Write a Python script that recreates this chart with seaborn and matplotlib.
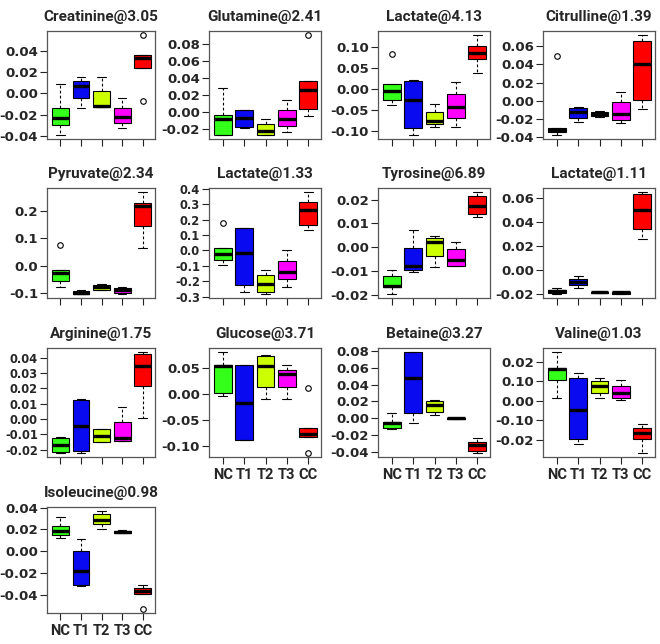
import numpy as np
import pandas as pd
import matplotlib
matplotlib.use("Agg")
import matplotlib.pyplot as plt
import seaborn as sns
from matplotlib import font_manager

# ---------------- data ----------------
groups = ["NC", "T1", "T2", "T3", "CC"]
group_colors = ["#33ff1a", "#0a0af0", "#ccff00", "#ff00ff", "#ff0000"]

# five-number summaries per group: [lower whisker, Q1, median, Q3, upper whisker]
creatinine_305 = [[-0.039, -0.030, -0.023, -0.014, 0.0087],
                  [-0.014, -0.0047, 0.0068, 0.0118, 0.0155],
                  [-0.0127, -0.0127, -0.0118, 0.0025, 0.0155],
                  [-0.032, -0.0273, -0.0217, -0.0133, -0.0047],
                  [0.0239, 0.0239, 0.0335, 0.0357, 0.0357]]
glutamine_241 = [[-0.0275, -0.0275, -0.0086, -0.0039, 0.0286],
                 [-0.0196, -0.0176, -0.0071, 0.0020, 0.0024],
                 [-0.0275, -0.0275, -0.0227, -0.0145, -0.0090],
                 [-0.0239, -0.0169, -0.0086, 0.0027, 0.0137],
                 [-0.0051, 0.0039, 0.0263, 0.0365, 0.0365]]
lactate_413 = [[-0.038, -0.0262, -0.004, 0.0119, 0.0119],
               [-0.1087, -0.0913, -0.0262, 0.0198, 0.0214],
               [-0.0897, -0.0833, -0.0746, -0.0532, -0.0341],
               [-0.0905, -0.0675, -0.0429, -0.0111, 0.0183],
               [0.038, 0.0714, 0.0873, 0.103, 0.129]]
citrulline_139 = [[-0.0375, -0.0338, -0.032, -0.0302, -0.0295],
                  [-0.0229, -0.0193, -0.012, -0.0073, -0.0065],
                  [-0.0174, -0.0167, -0.0145, -0.0124, -0.0116],
                  [-0.0247, -0.0211, -0.0149, -0.0011, 0.0098],
                  [-0.0084, 0.0015, 0.0404, 0.0662, 0.0724]]
pyruvate_234 = [[-0.0795, -0.0559, -0.0273, -0.0149, -0.0149],
                [-0.1031, -0.102, -0.098, -0.0932, -0.0894],
                [-0.0895, -0.087, -0.077, -0.0708, -0.068],
                [-0.103, -0.0994, -0.0894, -0.0832, -0.077],
                [0.0658, 0.1466, 0.2186, 0.2298, 0.2696]]
lactate_133 = [[-0.0945, -0.0615, -0.022, 0.013, 0.013],
               [-0.27, -0.226, -0.0176, 0.147, 0.147],
               [-0.281, -0.266, -0.22, -0.156, -0.127],
               [-0.233, -0.187, -0.138, -0.068, 0.0],
               [0.132, 0.1626, 0.2615, 0.312, 0.378]]
tyrosine_689 = [[-0.0194, -0.0166, -0.0159, -0.0119, -0.0093],
                [-0.0104, -0.0094, -0.0076, -0.0001, 0.0074],
                [-0.008, -0.0036, 0.0021, 0.0041, 0.0046],
                [-0.0079, -0.0079, -0.0054, -0.0007, 0.0021],
                [0.0129, 0.0139, 0.0174, 0.0213, 0.0231]]
lactate_111 = [[-0.0203, -0.0194, -0.018, -0.0171, -0.0157],
               [-0.0151, -0.0129, -0.0103, -0.008, -0.0057],
               [-0.0197, -0.0194, -0.0189, -0.0183, -0.018],
               [-0.0203, -0.0200, -0.0191, -0.0186, -0.0183],
               [0.0254, 0.0343, 0.0497, 0.0634, 0.0649]]
arginine_175 = [[-0.0222, -0.0215, -0.0167, -0.0127, -0.0121],
                [-0.0222, -0.0209, -0.0044, 0.0125, 0.013],
                [-0.0152, -0.0152, -0.0112, -0.0066, -0.0066],
                [-0.0145, -0.0145, -0.0123, -0.0022, 0.0075],
                [0.0004, 0.0218, 0.0349, 0.0422, 0.0437]]
glucose_371 = [[-0.0045, 0.0019, 0.0528, 0.0547, 0.0804],
               [-0.0882, -0.0882, -0.018, 0.0547, 0.056],
               [-0.0097, 0.0129, 0.0534, 0.0727, 0.074],
               [-0.0097, 0.0142, 0.0386, 0.047, 0.056],
               [-0.0817, -0.0817, -0.0759, -0.0644, -0.0644]]
betaine_327 = [[-0.0124, -0.012, -0.006, -0.004, 0.0068],
               [-0.0052, 0.0068, 0.048, 0.0788, 0.0788],
               [0.004, 0.008, 0.0156, 0.0204, 0.0216],
               [-0.0006, -0.0004, 0.0, 0.0004, 0.0006],
               [-0.0412, -0.0392, -0.0312, -0.028, -0.0232]]
valine_103 = [[0.0017, 0.0107, 0.0162, 0.0167, 0.025],
              [-0.0221, -0.0198, -0.0045, 0.0116, 0.0145],
              [0.0017, 0.0041, 0.0078, 0.0102, 0.0116],
              [0.0003, 0.0016, 0.0038, 0.0078, 0.0107],
              [-0.0267, -0.0197, -0.0166, -0.0138, -0.0117]]
isoleucine_098 = [[0.012, 0.015, 0.019, 0.023, 0.031],
                  [-0.032, -0.031, -0.018, 0.0, 0.011],
                  [0.020, 0.025, 0.029, 0.034, 0.037],
                  [0.0165, 0.017, 0.018, 0.019, 0.0195],
                  [-0.039, -0.039, -0.036, -0.034, -0.031]]

# outliers: (group, value)
creatinine_out = [("CC", 0.0549), ("CC", -0.0071)]
glutamine_out = [("CC", 0.091)]
lactate413_out = [("NC", 0.0841)]
citrulline_out = [("NC", 0.0498)]
pyruvate_out = [("NC", 0.0758)]
lactate133_out = [("NC", 0.176)]
glucose_out = [("CC", 0.0116), ("CC", -0.1126)]
isoleucine_out = [("CC", -0.053)]

titles = ["Creatinine@3.05", "Glutamine@2.41", "Lactate@4.13", "Citrulline@1.39",
          "Pyruvate@2.34", "Lactate@1.33", "Tyrosine@6.89", "Lactate@1.11",
          "Arginine@1.75", "Glucose@3.71", "Betaine@3.27", "Valine@1.03",
          "Isoleucine@0.98"]

panel_stats = [creatinine_305, glutamine_241, lactate_413, citrulline_139,
               pyruvate_234, lactate_133, tyrosine_689, lactate_111,
               arginine_175, glucose_371, betaine_327, valine_103, isoleucine_098]
panel_outliers = [creatinine_out, glutamine_out, lactate413_out, citrulline_out,
                  pyruvate_out, lactate133_out, [], [],
                  [], glucose_out, [], [], isoleucine_out]

ytick_values = [
    [-0.04, -0.02, 0.00, 0.02, 0.04],
    [-0.02, 0.00, 0.02, 0.04, 0.06, 0.08],
    [-0.10, -0.05, 0.00, 0.05, 0.10],
    [-0.04, -0.02, 0.00, 0.02, 0.04, 0.06],
    [-0.1, 0.0, 0.1, 0.2],
    [-0.3, -0.2, -0.1, 0.0, 0.1, 0.2, 0.3, 0.4],
    [-0.02, -0.01, 0.00, 0.01, 0.02],
    [-0.02, 0.00, 0.02, 0.04, 0.06],
    [-0.02, -0.01, 0.00, 0.01, 0.02, 0.03, 0.04],
    [-0.10, -0.05, 0.00, 0.05],
    [-0.04, -0.02, 0.00, 0.02, 0.04, 0.06, 0.08],
    [-0.02, -0.01, 0.00, 0.01, 0.02],
    [-0.04, -0.02, 0.00, 0.02, 0.04],
]
ytick_labels = [
    ["-0.04", "-0.02", "0.00", "0.02", "0.04"],
    ["-0.02", "0.00", "0.02", "0.04", "0.06", "0.08"],
    ["-0.10", "-0.05", "0.00", "0.05", "0.10"],
    ["-0.04", "-0.02", "0.00", "0.02", "0.04", "0.06"],
    ["-0.1", "0.0", "0.1", "0.2"],
    ["-0.3", "-0.2", "-0.1", "0.0", "0.1", "0.2", "0.3", "0.4"],
    ["-0.02", "-0.01", "0.00", "0.01", "0.02"],
    ["-0.02", "0.00", "0.02", "0.04", "0.06"],
    ["-0.02", "-0.01", "0.00", "0.01", "0.02", "0.03", "0.04"],
    ["-0.10", "-0.05", "0.00", "0.05"],
    ["-0.04", "-0.02", "0.00", "0.02", "0.04", "0.06", "0.08"],
    ["-0.02", "-0.10", "0.00", "0.10", "0.02"],
    ["-0.04", "-0.02", "0.00", "0.02", "0.04"],
]
labelled_x = {9, 10, 11, 12}
dense_y = {5, 8}

# ---------------- style ----------------
sns.set_style("ticks")
names = {f.name for f in font_manager.fontManager.ttflist}
title_font = "Roboto" if "Roboto" in names else "DejaVu Sans"
plt.rcParams["font.family"] = ["DejaVu Sans"]

W, H = 660, 644
fig = plt.figure(figsize=(W / 100, H / 100), dpi=100)

col_left = [47, 209, 378, 543]
col_w = [108, 112, 112, 112]
row_top = [31, 188, 348, 507]
row_h = [108, 110, 109, 106]

for i, (title, stats) in enumerate(zip(titles, panel_stats)):
    r, c = divmod(i, 4)
    rect = [col_left[c] / W, 1 - (row_top[r] + row_h[r]) / H, col_w[c] / W, row_h[r] / H]
    ax = fig.add_axes(rect)

    df = pd.DataFrame({
        "group": np.repeat(groups, 5),
        "value": np.concatenate(stats),
    })
    sns.boxplot(data=df, x="group", y="value", hue="group", order=groups,
                hue_order=groups, palette=group_colors, saturation=1,
                whis=(0, 100), width=0.82, linecolor="black", linewidth=0.8,
                showfliers=False, legend=False, ax=ax,
                medianprops=dict(linewidth=2.4, color="black"),
                whiskerprops=dict(linestyle=(0, (2.5, 2)), linewidth=0.8),
                capprops=dict(linewidth=0.8))

    outs = panel_outliers[i]
    if outs:
        ox = [groups.index(g) for g, _ in outs]
        oy = [v for _, v in outs]
        ax.scatter(ox, oy, s=16, facecolors="white", edgecolors="black",
                   linewidths=0.8, zorder=5)

    vals = [np.asarray(s) for s in stats]
    if outs:
        vals.append(np.array([v for _, v in outs]))
    allv = np.concatenate([v.ravel() for v in vals])
    lo, hi = allv.min(), allv.max()
    pad = 0.04 * (hi - lo)
    ax.set_ylim(lo - pad, hi + pad)
    ax.set_xlim(-0.65, 4.6)

    ax.set_yticks(ytick_values[i])
    ax.set_yticklabels(ytick_labels[i], fontweight="bold",
                       fontsize=8.3 if i in dense_y else 9.5,
                       family="DejaVu Sans")
    ax.set_xticks(range(5))
    if i in labelled_x:
        ax.set_xticklabels(groups, fontweight="bold", fontsize=10.5, family=title_font)
    else:
        ax.set_xticklabels([])
    ax.set_xlabel("")
    ax.set_ylabel("")
    ax.tick_params(axis="both", length=5, width=0.8, color="#222222", pad=1.5)
    ax.tick_params(axis="x", pad=3)
    for sp in ax.spines.values():
        sp.set_color("#555555")
        sp.set_linewidth(0.9)
    ax.set_title(title, fontsize=11, fontweight="bold", family=title_font, pad=7)

fig.savefig("out.png", dpi=100, facecolor="white")
